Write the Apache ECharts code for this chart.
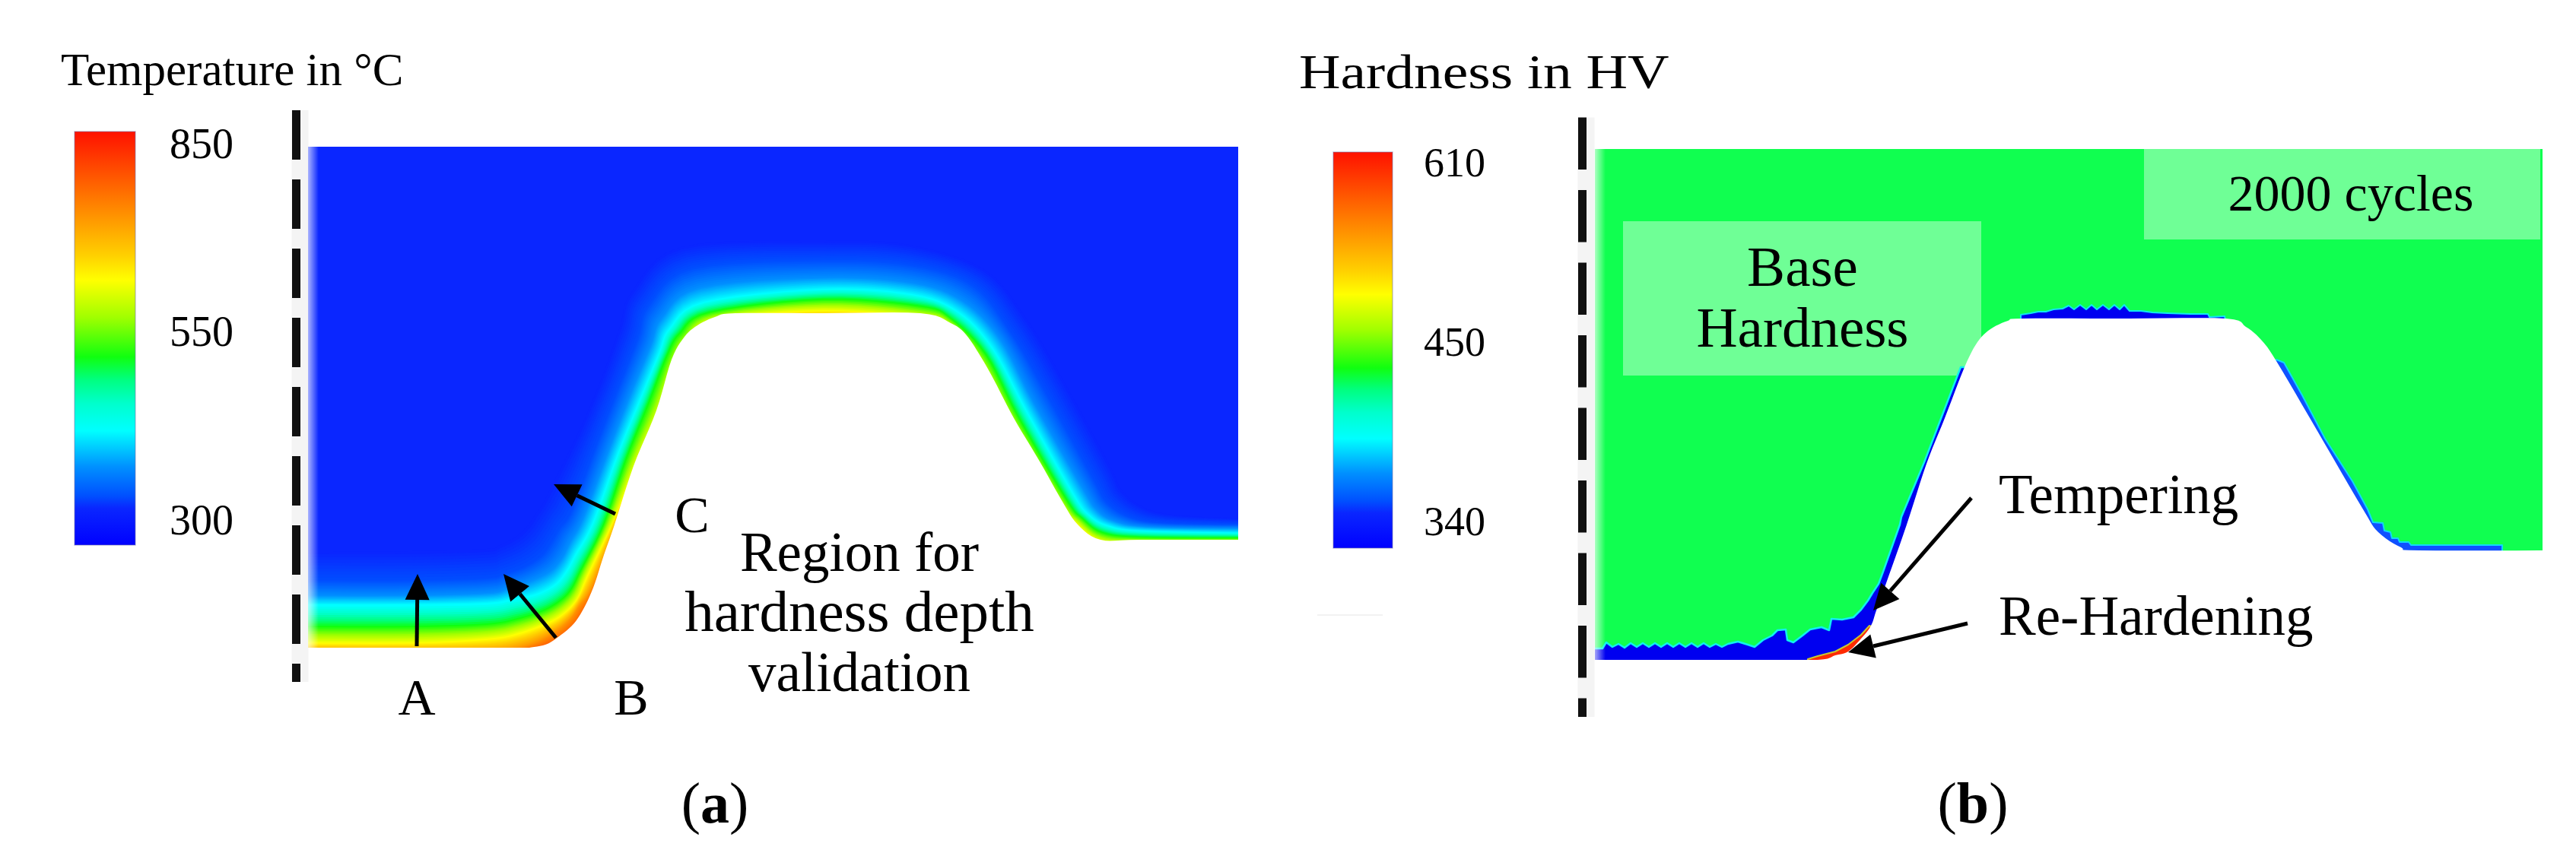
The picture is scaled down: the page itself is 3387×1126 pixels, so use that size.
<!DOCTYPE html>
<html><head><meta charset="utf-8">
<style>html,body{margin:0;padding:0;background:#fff}#c{width:3387px;height:1126px}</style>
<script src="https://cdn.jsdelivr.net/npm/echarts@6/dist/echarts.min.js"></script>
</head><body><div id="c"></div>
<script>
// ---- colour ramp (shared by both colour bars), position 0..1 along the bar
const rampPos = [0,0.09,0.12,0.19,0.277,0.343,0.40,0.455,0.55,0.64,0.70,0.80,0.90,1];
const rampCol = ['#0000ff','#0a26ff','#0050ff','#0090ff','#00ffff','#00ffcc','#00ff80','#10ff10','#a0ff00','#ffff00','#ffd000','#ff9000','#ff5000','#ff1000'];
// ---- colour bars
const tempRange = [276.7, 881];
const tempTicks = [300,355,410,465,520,575,630,685,740,795,850];
const tempLabels = ['300','550','850'];
const tempLabelAnchors = [309,583.6,859];
const hardRange = [327, 624];
const hardTicks = [340,367,394,421,448,475,502,529,556,583,610];
const hardLabels = ['340','450','610'];
const hardLabelAnchors = [345,479.5,613.7];
// ---- panel (a): tool surface and isotherms (picture position along x, y)
const surfaceA = [[380,852],[540,852],[640,852],[689,852],[696,852],[717,848],[731,840],[752,823],[766,803],[780,773],[794,730],[807,693],[833,613],[863,540],[883,473],[900,443],[917,428],[940,417],[967,412],[1083,412],[1210,412],[1250,425],[1270,440],[1290,470],[1307,500],[1333,550],[1367,607],[1397,660],[1417,690],[1447,710],[1500,710],[1650,710]];
const isoLevels = [331,349,392,444,552,663,760,820];
const iso331 = [[395,725],[540,725],[640,722],[655,718],[680,705],[695,690],[705,675],[715,660],[725,640],[760,570],[790,500],[815,430],[830,385],[895,325],[1083,317],[1195,322],[1295,355],[1350,420],[1395,495],[1458,610],[1475,645],[1505,668],[1550,678],[1640,682]];
const iso349 = [[395,763],[540,763],[640,760],[662,755],[690,745],[712,730],[725,712],[735,695],[752,670],[785,582],[812,512],[838,445],[852,402],[910,352],[1083,342],[1200,348],[1280,375],[1330,438],[1375,515],[1438,630],[1455,660],[1485,680],[1530,688],[1640,690]];
const iso392 = [[395,783],[540,783],[640,780],[665,775],[695,765],[722,752],[738,735],[750,712],[767,680],[800,592],[828,520],[855,455],[870,418],[920,378],[1083,365],[1200,372],[1265,395],[1315,445],[1360,530],[1424,642],[1442,670],[1465,685],[1510,693],[1640,695]];
const iso444 = [[395,795],[540,795],[640,793],[672,788],[705,781],[730,768],[745,750],[757,728],[779,688],[812,597],[840,528],[866,465],[880,432],[925,397],[1083,380],[1200,387],[1260,410],[1305,457],[1350,540],[1412,650],[1432,677],[1456,691],[1500,698],[1640,701]];
const iso552 = [[395,823],[540,823],[640,820],[680,813],[712,803],[735,790],[750,775],[763,750],[793,690],[822,605],[852,530],[876,468],[893,438],[933,410],[1083,393],[1210,402],[1250,418],[1297,466],[1339,547],[1403,657],[1424,682],[1450,700],[1500,706],[1640,707]];
const iso663 = [[395,845],[540,845],[640,840],[680,833],[722,818],[745,803],[760,785],[772,757],[804,690],[836,612],[868,542],[890,478],[907,449],[945,420],[1083,408],[1210,417],[1250,430],[1285,475],[1328,555],[1392,662],[1415,688],[1447,712],[1500,714],[1640,714]];
const iso760 = [[395,858],[540,858],[640,858],[690,850],[725,834],[748,816],[762,796],[778,773],[809,695],[838,617],[868,547],[892,480],[908,452],[945,425],[1083,420],[1210,420],[1250,433],[1285,478],[1328,558],[1392,668],[1412,695],[1445,718],[1500,720],[1640,720]];
const iso820 = [[395,866],[540,866],[640,864],[695,857],[733,844],[755,826],[769,806],[782,777],[812,698],[842,622],[872,552],[896,484],[912,457],[950,430],[1083,425],[1210,425],[1250,438],[1280,482],[1322,562],[1386,672],[1406,700],[1440,724],[1500,726],[1640,726]];
const isoRows = [iso331,iso349,iso392,iso444,iso552,iso663,iso760,iso820];
// ---- panel (b): surface and hardness zones
const surfaceB = [[2070,868],[2300,868],[2390,868],[2413,862],[2430,857],[2447,840],[2460,823],[2467,803],[2480,767],[2507,690],[2533,610],[2557,550],[2583,483],[2600,450],[2617,433],[2640,422],[2660,419],[2800,419],[2927,419],[2953,430],[2973,447],[2993,475],[3047,567],[3107,670],[3127,700],[3157,720],[3180,724],[3360,724]];
const temperedBottom = [[2090,880],[2090,853],[2107,853],[2112,845],[2120,851],[2128,847],[2136,852],[2144,846],[2152,851],[2160,846],[2168,851],[2176,846],[2184,851],[2192,846],[2200,851],[2208,846],[2216,851],[2224,846],[2232,851],[2240,846],[2248,851],[2256,847],[2264,851],[2272,847],[2285,844],[2298,848],[2307,851],[2318,842],[2330,836],[2337,829],[2348,828],[2350,842],[2358,845],[2370,836],[2380,828],[2395,825],[2405,829],[2408,814],[2422,815],[2437,812],[2447,802],[2456,790],[2462,780],[2470,768],[2476,752],[2498,690],[2500,680],[2530,608],[2553,548],[2578,483],[2590,483],[2520,700],[2480,800],[2470,880]];
const temperedTop = [[2657,425],[2657,414],[2670,412],[2680,410],[2690,410],[2700,407],[2712,406],[2720,402],[2727,407],[2735,401],[2743,407],[2750,401],[2757,407],[2765,401],[2773,407],[2780,401],[2787,407],[2793,401],[2800,409],[2815,409],[2830,411],[2850,412],[2880,413],[2903,413],[2905,417],[2925,416],[2927,425]];
const temperedRight = [[2993,473],[3003,477],[3027,520],[3057,577],[3093,633],[3113,670],[3120,687],[3133,688],[3135,698],[3143,700],[3145,708],[3153,708],[3155,713],[3167,713],[3170,717],[3290,717],[3290,735],[3150,735],[3100,680],[2985,480]];
const rehardened = [[2377,875],[2377,867],[2390,863],[2413,857],[2430,848],[2447,835],[2458,823],[2472,830],[2455,860],[2420,878]];
const textBoxes = [[2134,291,2605,494],[2819,195,3340,315]];
// ---- annotation: symmetry lines and arrows [tail, tip]
const symmetryA = [[389.5,145],[389.5,897]];
const symmetryB = [[2080.5,154.5],[2080.5,943]];
const arrows = [
  [[548,850],[549,755]],[[731,839],[662,755]],[[809,676],[728,637]],
  [[2592,655],[2463,803]],[[2587,820],[2430,858]]
];
const faintLine = [[1732,809],[1818,809]];

const mix=(a,b,t)=>{const p=s=>[1,3,5].map(i=>parseInt(s.substr(i,2),16));const A=p(a),B=p(b);
  return 'rgb('+A.map((v,i)=>Math.round(v+(B[i]-v)*t)).join(',')+')';};
function rampColor(f){for(let i=1;i<rampPos.length;i++){if(f<=rampPos[i]){return mix(rampCol[i-1],rampCol[i],(f-rampPos[i-1])/(rampPos[i]-rampPos[i-1]));}}return rampCol[rampCol.length-1];}
const tempFrac=t=>(t-tempRange[0])/(tempRange[1]-tempRange[0]);
const gradStops=rampPos.map((p,i)=>({offset:1-p,color:rampCol[i]})).reverse();
// rounds an outline for drawing only
function rounded(pts){const out=[];const n=pts.length,S=6;
  for(let i=0;i<n-1;i++){const p0=pts[Math.max(i-1,0)],p1=pts[i],p2=pts[i+1],p3=pts[Math.min(i+2,n-1)];
    for(let s=0;s<S;s++){const t=s/S,t2=t*t,t3=t2*t;
      out.push([0,1].map(k=>0.5*(2*p1[k]+(p2[k]-p0[k])*t+(2*p0[k]-5*p1[k]+4*p2[k]-p3[k])*t2+(3*p1[k]-p0[k]-3*p2[k]+p3[k])*t3)));}}
  out.push(pts[n-1]);return out;}

const SERIF='"Liberation Serif","DejaVu Serif",serif';
const grids=[
  {left:405,top:193,width:1223,height:659,show:false},   // panel a
  {left:2097,top:196,width:1246,height:672,show:false},  // panel b
  {left:0,top:0,width:3387,height:1126,show:false},      // annotation
  {left:98,top:173,width:80,height:544,show:false},      // bar a
  {left:1753,top:200,width:78,height:521,show:false}     // bar b
];
const xA=(i,mn,mx)=>({type:'value',gridIndex:i,min:mn,max:mx,show:false,scale:true});
const xAxis=[xA(0,405,1628),xA(1,2097,3343),xA(2,0,3387),xA(3,0,1),xA(4,0,1)];
const yHidden=(i,mn,mx)=>({type:'value',gridIndex:i,min:mn,max:mx,inverse:true,show:false,scale:true});
const barAxis=(i,r,ticks,anchors,labels,margin,size)=>({type:'value',gridIndex:i,min:r[0],max:r[1],position:'right',scale:true,
  axisLine:{show:false},splitLine:{show:false},
  axisTick:{show:true,length:7,customValues:ticks,lineStyle:{color:'#9a9a9a',width:1.5}},
  axisLabel:{show:true,margin:margin,customValues:anchors,color:'#000',fontSize:size,fontFamily:SERIF,
    formatter:v=>labels[anchors.indexOf(v)]}});
const yAxis=[yHidden(0,193,852),yHidden(1,196,868),yHidden(2,0,1126),
  barAxis(3,tempRange,tempTicks,tempLabelAnchors,tempLabels,45,56),
  barAxis(4,hardRange,hardTicks,hardLabelAnchors,hardLabels,41,54)];

function poly(api,pts,style){return {type:'polygon',shape:{points:pts.map(p=>api.coord(p))},style:style,silent:true};}
const BANDS=10;
function fieldItem(params,api){
  const k=api.value(0);
  if(k<0){
    const a=api.coord([395,180]),b=api.coord([1640,860]);
    return {type:'rect',shape:{x:a[0],y:a[1],width:b[0]-a[0],height:b[1]-a[1]},style:{fill:rampColor(tempFrac(isoLevels[0]))}};
  }
  const r=Math.floor(k/BANDS),t=(k%BANDS)/BANDS;
  const A=isoRows[r],B=isoRows[r+1];
  const pts=A.map((p,i)=>[p[0]+(B[i][0]-p[0])*t,p[1]+(B[i][1]-p[1])*t]);
  const lvl=isoLevels[r]+(isoLevels[r+1]-isoLevels[r])*t;
  const full=[[300,1000],[300,pts[0][1]]].concat(rounded(pts),[[1800,pts[pts.length-1][1]],[1800,1000]]);
  return poly(api,full,{fill:rampColor(tempFrac(lvl))});
}
const fieldData=[[-1]];
for(let k=0;k<(isoRows.length-1)*BANDS;k++)fieldData.push([k]);
const maskOf=(s,b)=>{const r=rounded(s);return r.concat([[s[s.length-1][0],b],[s[0][0],b]]);};

function zoneItems(params,api){
  const i=api.value(0);
  if(i===0){const a=api.coord([2090,190]),b=api.coord([3350,880]);
    return {type:'rect',shape:{x:a[0],y:a[1],width:b[0]-a[0],height:b[1]-a[1]},style:{fill:'#10ff50'}};}
  if(i===1||i===2){const b=textBoxes[i-1],p=api.coord([b[0],b[1]]),q=api.coord([b[2],b[3]]);
    return {type:'rect',shape:{x:p[0],y:p[1],width:q[0]-p[0],height:q[1]-p[1]},style:{fill:'rgba(255,255,255,0.4)'}};}
  if(i===3)return poly(api,temperedBottom,{fill:'#0000f0',stroke:'#10f0f0',lineWidth:2.5,lineJoin:'round'});
  if(i===4)return poly(api,temperedTop,{fill:'#0000f0',stroke:'#10e8f0',lineWidth:2,lineJoin:'round'});
  if(i===5)return poly(api,temperedRight,{fill:'#1050ff',stroke:'#10d8f8',lineWidth:2,lineJoin:'round'});
  if(i===6)return poly(api,rehardened,{fill:'#ff2a00',stroke:'#c8c830',lineWidth:2,lineJoin:'round'});
  return poly(api,maskOf(surfaceB,900),{fill:'#fff'});
}
function edgeItem(params,api){
  const v=api.value(0), a=api.coord([v,api.value(1)]), b=api.coord([v+14,api.value(2)]);
  return {type:'rect',shape:{x:a[0],y:a[1],width:b[0]-a[0],height:b[1]-a[1]},silent:true,
    style:{fill:new echarts.graphic.LinearGradient(0,0,1,0,[{offset:0,color:'rgba(255,255,255,0.65)'},{offset:1,color:'rgba(255,255,255,0)'}])}};
}
function arrowItem(params,api){
  const a=arrows[api.value(0)],t=api.coord(a[0]),h=api.coord(a[1]);
  const dx=h[0]-t[0],dy=h[1]-t[1],L=Math.hypot(dx,dy),ux=dx/L,uy=dy/L,len=34,w=16;
  const bx=h[0]-ux*len,by=h[1]-uy*len;
  return {type:'group',silent:true,children:[
    {type:'line',shape:{x1:t[0],y1:t[1],x2:bx,y2:by},style:{stroke:'#000',lineWidth:5}},
    {type:'polygon',shape:{points:[h,[bx-uy*w,by+ux*w],[bx+uy*w,by-ux*w]]},style:{fill:'#000'}}]};
}
function barItem(params,api){
  const a=api.coord([0,api.value(1)]),b=api.coord([1,api.value(0)]);
  return {type:'rect',shape:{x:a[0],y:a[1],width:b[0]-a[0],height:b[1]-a[1]},silent:true,
    style:{fill:new echarts.graphic.LinearGradient(0,0,0,1,gradStops),stroke:'rgba(120,120,170,0.45)',lineWidth:1.5}};
}
const sym=(d,dash)=>[
  {type:'line',xAxisIndex:2,yAxisIndex:2,data:d.map(p=>[p[0]+5,p[1]]),showSymbol:false,silent:true,animation:false,z:1,clip:false,
   lineStyle:{color:'#f4f4f4',width:22,cap:'butt'}},
  {type:'line',xAxisIndex:2,yAxisIndex:2,data:d,showSymbol:false,silent:true,animation:false,z:6,clip:false,
   lineStyle:{color:'#111',width:11,type:dash,cap:'butt'}}];

const txt=(text,x,y,size,opt,el)=>Object.assign({type:'text',x:x,y:y,z:100,silent:true,
  style:Object.assign({text:text,font:size+'px '+SERIF,fill:'#000',align:'left',verticalAlign:'middle'},opt||{})},el||{});
const C={align:'center'};
const graphics=[
  txt('Temperature in °C',80,96,61),
  txt('Hardness in HV',1708,99,64,null,{scaleX:1.18}),
  txt('A',548,922,68,C),
  txt('B',830,922,68,C),
  txt('C',910,682,68,C),
  txt('Region for',1130,732,73,C),
  txt('hardness depth',1130,810,77,C),
  txt('validation',1130,890,73,C),
  txt('Base',2370,356,75,C),
  txt('Hardness',2370,436,75,C),
  txt('2000 cycles',3091,259,68,C),
  txt('Tempering',2628,656,73),
  txt('Re-Hardening',2628,816,73),
  {type:'text',x:940,y:1062,z:100,silent:true,style:{rich:{r:{font:'76px '+SERIF},b:{font:'bold 76px '+SERIF}},text:'{r|(}{b|a}{r|)}',align:'center',verticalAlign:'middle',fill:'#000'}},
  {type:'text',x:2594,y:1062,z:100,silent:true,style:{rich:{r:{font:'76px '+SERIF},b:{font:'bold 76px '+SERIF}},text:'{r|(}{b|b}{r|)}',align:'center',verticalAlign:'middle',fill:'#000'}}
];
const series=[
  {type:'custom',xAxisIndex:0,yAxisIndex:0,data:fieldData,renderItem:fieldItem,clip:true,silent:true,animation:false,z:2},
  {type:'custom',xAxisIndex:0,yAxisIndex:0,data:[[0]],clip:true,silent:true,animation:false,z:3,
   renderItem:(p,api)=>poly(api,maskOf(surfaceA,900),{fill:'#fff'})},
  {type:'custom',xAxisIndex:0,yAxisIndex:0,data:[[405,193,852]],renderItem:edgeItem,clip:true,silent:true,animation:false,z:4},
  {type:'custom',xAxisIndex:1,yAxisIndex:1,data:[[0],[1],[2],[3],[4],[5],[6],[7]],renderItem:zoneItems,clip:true,silent:true,animation:false,z:2},
  {type:'custom',xAxisIndex:1,yAxisIndex:1,data:[[2097,196,868]],renderItem:edgeItem,clip:true,silent:true,animation:false,z:4},
  {type:'custom',xAxisIndex:3,yAxisIndex:3,data:[tempRange],renderItem:barItem,silent:true,animation:false,z:2},
  {type:'custom',xAxisIndex:4,yAxisIndex:4,data:[hardRange],renderItem:barItem,silent:true,animation:false,z:2},
  {type:'custom',xAxisIndex:2,yAxisIndex:2,data:arrows.map((a,i)=>[i]),renderItem:arrowItem,silent:true,animation:false,z:8},
  {type:'line',xAxisIndex:2,yAxisIndex:2,data:faintLine,showSymbol:false,silent:true,animation:false,lineStyle:{color:'#eeeeee',width:1.5},z:1}
].concat(sym(symmetryA,[65,26]),sym(symmetryB,[68.5,27]));

const chart=echarts.init(document.getElementById('c'),null,{renderer:'canvas',width:3387,height:1126});
chart.setOption({animation:false,backgroundColor:'#fff',grid:grids,xAxis:xAxis,yAxis:yAxis,series:series,graphic:graphics,tooltip:{show:false}});
</script></body></html>
